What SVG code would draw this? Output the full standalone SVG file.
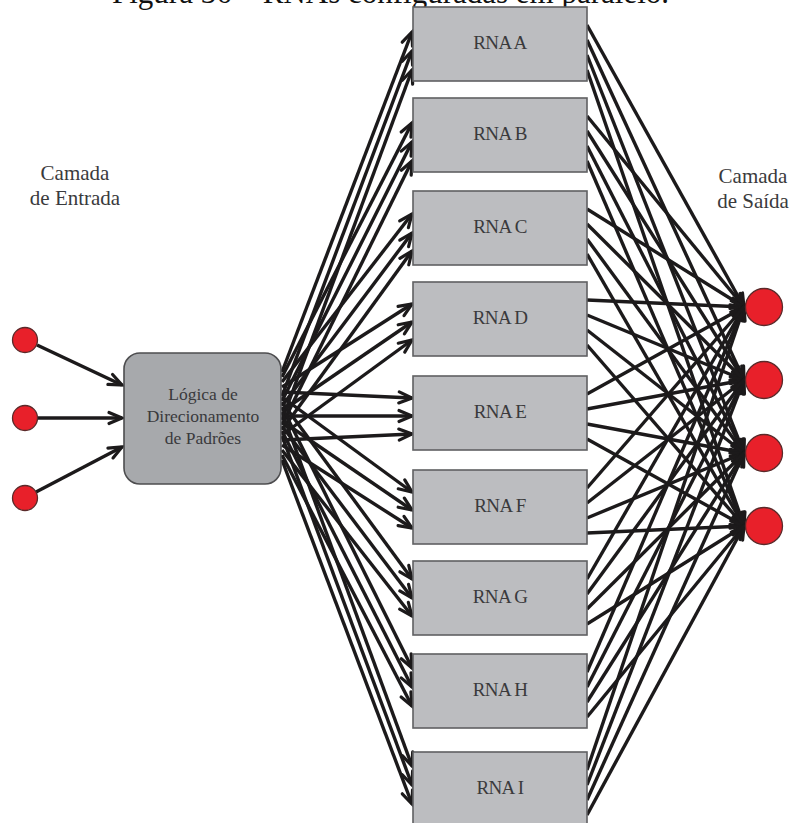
<svg xmlns="http://www.w3.org/2000/svg" width="793" height="823" viewBox="0 0 793 823">
  <defs>
    <style>
      .lbl { font-family: "Liberation Serif", "Times New Roman", serif; fill: #3a3a3c; }
      .title { font-family: "Liberation Serif", "Times New Roman", serif; fill: #111; font-size: 31px; }
      .rna rect { fill: #bcbdc0; stroke: #5f6062; stroke-width: 1.6; }
      .rna text { font-size: 19px; letter-spacing: -0.6px; text-anchor: middle; }
      .io circle { fill: #e8202a; stroke: #5a2a2a; stroke-width: 1.3; }
      .wires line { stroke: #1c1a1b; stroke-width: 3.4; fill: none; marker-end: url(#ah); }
    </style>
    <marker id="ah" markerUnits="userSpaceOnUse" markerWidth="16" markerHeight="14" viewBox="0 0 16 14" refX="15" refY="7" orient="auto" overflow="visible">
      <path d="M2,1.5 L15,7 L2,12.5" fill="none" stroke="#1c1a1b" stroke-width="3.2" stroke-linecap="round"/>
    </marker>
  </defs>

  <rect width="793" height="823" fill="#ffffff"/>

  <!-- caption, clipped by the top edge -->
  <text class="title" x="112" y="3">Figura 36 – RNAs configuradas em paralelo.</text>

  <!-- layer captions -->
  <g id="label-entrada" class="lbl" font-size="21" text-anchor="middle">
    <text x="75" y="180">Camada</text>
    <text x="75" y="205">de Entrada</text>
  </g>
  <g id="label-saida" class="lbl" font-size="21" text-anchor="middle">
    <text x="753" y="183">Camada</text>
    <text x="753" y="208">de Saída</text>
  </g>

  <!-- connectors -->
  <g id="connectors" class="wires">
    <!-- inputs to routing logic -->
    <line x1="37" y1="345" x2="122" y2="385"/>
    <line x1="38" y1="418" x2="122" y2="418"/>
    <line x1="36" y1="492" x2="122" y2="447"/>

    <!-- routing logic to each network -->
    <line x1="282" y1="372" x2="412" y2="32"/>
    <line x1="282" y1="396" x2="412" y2="51"/>
    <line x1="282" y1="420" x2="412" y2="70"/>
    <line x1="282" y1="377" x2="412" y2="123"/>
    <line x1="282" y1="401" x2="412" y2="142"/>
    <line x1="282" y1="425" x2="412" y2="161"/>
    <line x1="282" y1="382" x2="412" y2="214"/>
    <line x1="282" y1="406" x2="412" y2="233"/>
    <line x1="282" y1="430" x2="412" y2="251"/>
    <line x1="282" y1="387" x2="412" y2="304"/>
    <line x1="282" y1="411" x2="412" y2="322"/>
    <line x1="282" y1="435" x2="412" y2="340"/>
    <line x1="282" y1="392" x2="412" y2="398"/>
    <line x1="282" y1="416" x2="412" y2="416"/>
    <line x1="282" y1="440" x2="412" y2="434"/>
    <line x1="282" y1="397" x2="412" y2="492"/>
    <line x1="282" y1="421" x2="412" y2="510"/>
    <line x1="282" y1="445" x2="412" y2="528"/>
    <line x1="282" y1="402" x2="412" y2="579"/>
    <line x1="282" y1="426" x2="412" y2="598"/>
    <line x1="282" y1="450" x2="412" y2="616"/>
    <line x1="282" y1="407" x2="412" y2="668"/>
    <line x1="282" y1="431" x2="412" y2="687"/>
    <line x1="282" y1="455" x2="412" y2="706"/>
    <line x1="282" y1="412" x2="412" y2="766"/>
    <line x1="282" y1="436" x2="412" y2="785"/>
    <line x1="282" y1="460" x2="412" y2="804"/>

    <!-- each network to every output -->
    <line x1="587" y1="25" x2="744" y2="307"/>
    <line x1="587" y1="40" x2="744" y2="380"/>
    <line x1="587" y1="55" x2="744" y2="453"/>
    <line x1="587" y1="70" x2="744" y2="526"/>
    <line x1="587" y1="116" x2="744" y2="307"/>
    <line x1="587" y1="131" x2="744" y2="380"/>
    <line x1="587" y1="146" x2="744" y2="453"/>
    <line x1="587" y1="161" x2="744" y2="526"/>
    <line x1="587" y1="209" x2="744" y2="307"/>
    <line x1="587" y1="224" x2="744" y2="380"/>
    <line x1="587" y1="239" x2="744" y2="453"/>
    <line x1="587" y1="254" x2="744" y2="526"/>
    <line x1="587" y1="300" x2="744" y2="307"/>
    <line x1="587" y1="315" x2="744" y2="380"/>
    <line x1="587" y1="330" x2="744" y2="453"/>
    <line x1="587" y1="345" x2="744" y2="526"/>
    <line x1="587" y1="394" x2="744" y2="307"/>
    <line x1="587" y1="409" x2="744" y2="380"/>
    <line x1="587" y1="424" x2="744" y2="453"/>
    <line x1="587" y1="439" x2="744" y2="526"/>
    <line x1="587" y1="488" x2="744" y2="307"/>
    <line x1="587" y1="503" x2="744" y2="380"/>
    <line x1="587" y1="518" x2="744" y2="453"/>
    <line x1="587" y1="533" x2="744" y2="526"/>
    <line x1="587" y1="579" x2="744" y2="307"/>
    <line x1="587" y1="594" x2="744" y2="380"/>
    <line x1="587" y1="609" x2="744" y2="453"/>
    <line x1="587" y1="624" x2="744" y2="526"/>
    <line x1="587" y1="672" x2="744" y2="307"/>
    <line x1="587" y1="687" x2="744" y2="380"/>
    <line x1="587" y1="702" x2="744" y2="453"/>
    <line x1="587" y1="717" x2="744" y2="526"/>
    <line x1="587" y1="770" x2="744" y2="307"/>
    <line x1="587" y1="785" x2="744" y2="380"/>
    <line x1="587" y1="800" x2="744" y2="453"/>
    <line x1="587" y1="815" x2="744" y2="526"/>
  </g>

  <!-- input neurons -->
  <g id="in-1" class="io"><circle cx="25" cy="340" r="12.5"/></g>
  <g id="in-2" class="io"><circle cx="25" cy="418" r="12.5"/></g>
  <g id="in-3" class="io"><circle cx="25" cy="498" r="12.5"/></g>

  <!-- routing logic -->
  <g id="logica">
    <rect x="124" y="353" width="157" height="131" rx="16" ry="16" fill="#a7a9ac" stroke="#4d4d4f" stroke-width="1.6"/>
    <g class="lbl" font-size="17.5" text-anchor="middle">
      <text x="203" y="400">Lógica de</text>
      <text x="203" y="422">Direcionamento</text>
      <text x="203" y="444">de Padrões</text>
    </g>
  </g>

  <!-- networks -->
  <g id="rna-a" class="rna lbl"><rect x="413" y="7" width="174" height="74"/><text x="500" y="49">RNA A</text></g>
  <g id="rna-b" class="rna lbl"><rect x="413" y="98" width="174" height="74"/><text x="500" y="140">RNA B</text></g>
  <g id="rna-c" class="rna lbl"><rect x="413" y="191" width="174" height="74"/><text x="500" y="233">RNA C</text></g>
  <g id="rna-d" class="rna lbl"><rect x="413" y="282" width="174" height="74"/><text x="500" y="324">RNA D</text></g>
  <g id="rna-e" class="rna lbl"><rect x="413" y="376" width="174" height="74"/><text x="500" y="418">RNA E</text></g>
  <g id="rna-f" class="rna lbl"><rect x="413" y="470" width="174" height="74"/><text x="500" y="512">RNA F</text></g>
  <g id="rna-g" class="rna lbl"><rect x="413" y="561" width="174" height="74"/><text x="500" y="603">RNA G</text></g>
  <g id="rna-h" class="rna lbl"><rect x="413" y="654" width="174" height="74"/><text x="500" y="696">RNA H</text></g>
  <g id="rna-i" class="rna lbl"><rect x="413" y="752" width="174" height="74"/><text x="500" y="794">RNA I</text></g>

  <!-- output neurons -->
  <g id="out-1" class="io"><circle cx="764" cy="307" r="18.5"/></g>
  <g id="out-2" class="io"><circle cx="764" cy="380" r="18.5"/></g>
  <g id="out-3" class="io"><circle cx="764" cy="453" r="18.5"/></g>
  <g id="out-4" class="io"><circle cx="764" cy="526" r="18.5"/></g>
</svg>
